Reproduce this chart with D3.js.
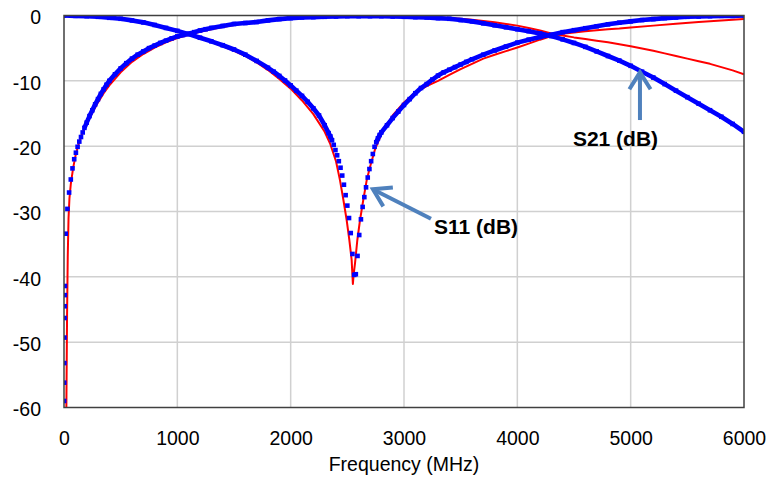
<!DOCTYPE html>
<html><head><meta charset="utf-8">
<script src="https://cdn.jsdelivr.net/npm/d3@7"></script>
<style>html,body{margin:0;padding:0;background:#fff;} svg{display:block;}</style>
</head><body>
<svg id="chart" width="768" height="480"></svg>
<script>
// ---------- data ----------
const xTicks = [0, 1000, 2000, 3000, 4000, 5000, 6000];
const yTicks = [0, -10, -20, -30, -40, -50, -60];
const xTitle = "Frequency (MHz)";

// measured (blue markers)
const measS21Freq = [1,2,3,4,5,6,7,8,15,30,45,60,75,90,105,120,135,150,165,180,200,225,250,275,300,325,350,375,400,450,500,550,600,650,700,750,800,850,900,950,1000,1050,1100,1150,1200,1250,1300,1400,1500,1600,1700,1800,1900,2000,2100,2200,2300,2400,2500,2600,2700,2800,2900,3000,3100,3200,3300,3400,3500,3600,3700,3800,3900,4000,4100,4200,4300,4400,4500,4600,4700,4800,4900,5000,5100,5200,5300,5400,5500,5600,5700,5800,5900,6000];
const measS21 = [-59.0,-56.2,-53.2,-49.3,-46.3,-44.5,-42.8,-41.4,-33.4,-29.6,-27.1,-25.1,-23.4,-22.0,-21.0,-20.1,-19.3,-18.6,-17.9,-17.2,-16.4,-15.4,-14.5,-13.6,-12.8,-12.0,-11.3,-10.6,-10.0,-9.0,-8.1,-7.3,-6.6,-6.0,-5.5,-5.0,-4.6,-4.2,-3.85,-3.5,-3.2,-3.0,-2.8,-2.55,-2.3,-2.1,-1.9,-1.6,-1.3,-1.15,-1.0,-0.75,-0.55,-0.4,-0.3,-0.25,-0.2,-0.15,-0.1,-0.1,-0.1,-0.1,-0.15,-0.2,-0.25,-0.3,-0.4,-0.5,-0.7,-0.9,-1.2,-1.5,-1.8,-2.1,-2.4,-2.75,-3.15,-3.65,-4.2,-4.8,-5.5,-6.2,-6.9,-7.7,-8.6,-9.5,-10.5,-11.5,-12.5,-13.5,-14.5,-15.5,-16.6,-17.8];

const measS11Freq = [0,100,200,300,400,500,600,700,800,900,1000,1100,1200,1300,1400,1500,1600,1700,1800,1850,1900,1950,2000,2050,2100,2150,2200,2250,2300,2335,2350,2365,2380,2395,2410,2425,2440,2455,2470,2485,2500,2515,2530,2545,2560,2575,2590,2605,2620,2635,2650,2665,2680,2695,2710,2725,2740,2755,2770,2785,2800,2850,2900,2950,3000,3050,3100,3150,3200,3250,3300,3350,3400,3450,3500,3550,3600,3700,3800,3900,4000,4100,4200,4300,4400,4500,4600,4700,4800,4900,5000,5100,5200,5300,5400,5500,5600,5700,5800,5900,6000];
const measS11 = [0,-0.05,-0.1,-0.2,-0.35,-0.5,-0.75,-1.05,-1.45,-1.9,-2.35,-2.85,-3.4,-3.95,-4.55,-5.2,-6.0,-6.95,-8.0,-8.6,-9.25,-9.95,-10.7,-11.5,-12.3,-13.2,-14.2,-15.3,-16.8,-18.0,-18.5,-19.1,-19.8,-20.6,-21.4,-22.3,-23.3,-24.5,-25.9,-27.5,-29.1,-31.0,-33.3,-36.5,-39.7,-39.6,-36.8,-33.6,-31.2,-29.3,-27.8,-26.3,-24.8,-23.5,-22.3,-21.2,-20.1,-19.4,-18.8,-18.3,-17.9,-16.8,-15.7,-14.7,-13.7,-12.8,-11.9,-11.1,-10.5,-9.8,-9.2,-8.7,-8.3,-7.9,-7.5,-7.1,-6.7,-6.0,-5.35,-4.75,-4.15,-3.7,-3.3,-2.95,-2.55,-2.25,-1.95,-1.65,-1.35,-1.1,-0.9,-0.7,-0.55,-0.4,-0.3,-0.2,-0.15,-0.1,-0.05,-0.05,0];

// simulated (red lines)
const simS21Freq = [20,27,33,40,48,60,80,100,130,160,200,250,300,350,400,500,600,700,800,900,1000,1100,1200,1300,1400,1500,1600,1700,1800,1900,2000,2200,2400,2600,2800,3000,3200,3400,3500,3600,3700,3800,3900,4000,4100,4200,4300,4400,4500,4600,4700,4800,4900,5000,5100,5200,5300,5400,5500,5600,5700,5800,5900,6000];
const simS21 = [-62,-46,-37,-31,-28,-25.8,-23.4,-21.6,-19.6,-18.1,-16.6,-14.9,-13.3,-11.9,-10.7,-8.7,-7.1,-5.9,-4.9,-4.1,-3.45,-2.95,-2.5,-2.1,-1.75,-1.45,-1.2,-1.0,-0.8,-0.62,-0.48,-0.28,-0.15,-0.1,-0.1,-0.15,-0.25,-0.4,-0.5,-0.65,-0.85,-1.05,-1.3,-1.55,-1.9,-2.3,-2.75,-3.05,-3.35,-3.6,-3.85,-4.1,-4.4,-4.7,-5.05,-5.4,-5.8,-6.2,-6.6,-7.0,-7.4,-7.9,-8.4,-9.0];

const simS11Freq = [0,200,400,600,800,1000,1100,1200,1300,1400,1500,1600,1700,1800,1900,2000,2100,2200,2300,2350,2400,2435,2465,2494,2518,2538,2549,2556,2568,2588,2612,2641,2671,2700,2744,2800,2900,3000,3100,3200,3300,3400,3500,3600,3700,3800,3900,4000,4100,4200,4300,4400,4500,4600,4700,4800,4900,5000,5200,5400,5600,5800,6000];
const simS11 = [0,-0.1,-0.35,-0.8,-1.5,-2.4,-2.9,-3.45,-4.05,-4.7,-5.4,-6.2,-7.2,-8.35,-9.7,-11.2,-13.0,-15.1,-17.8,-19.7,-22.3,-25.2,-28.2,-31.3,-34.4,-37.4,-41.1,-39.6,-37.9,-34.4,-31.3,-28.2,-25.2,-23.2,-20.5,-18.2,-15.3,-13.3,-11.8,-10.8,-10.0,-9.1,-8.2,-7.4,-6.6,-6.0,-5.45,-4.9,-4.3,-3.7,-3.15,-2.8,-2.6,-2.4,-2.25,-2.1,-2.0,-1.85,-1.55,-1.25,-1.0,-0.75,-0.55];

// annotations (data coordinates)
const annLabels = ["S11 (dB)", "S21 (dB)"];
const annTip = [[2726, -26.6], [5082, -8.7]];
const annTail = [[3238, -31.1], [5082, -16.0]];
const annText = [[3265, -33.5], [4866, -20.0]];
const annAnchor = ["start", "middle"];

// ---------- layout ----------
const L = 64, R = 744, T = 15.5, B = 407.5;
const FONT = "Arial, 'Liberation Sans', sans-serif";

const svg = d3.select("#chart");
const x = d3.scaleLinear().domain([0, 6000]).range([L, R]);
const y = d3.scaleLinear().domain([-60, 0]).range([B, T]);

// gridlines
const grid = svg.append("g");
grid.selectAll("line.h").data(yTicks.filter(v => v !== 0 && v !== -60)).join("line")
  .attr("x1", L).attr("x2", R).attr("y1", d => y(d)).attr("y2", d => y(d))
  .attr("stroke", "#d0d0d0").attr("stroke-width", 1.5);
grid.selectAll("line.v").data(xTicks.filter(v => v !== 0 && v !== 6000)).join("line")
  .attr("y1", T).attr("y2", B).attr("x1", d => x(d)).attr("x2", d => x(d))
  .attr("stroke", "#d0d0d0").attr("stroke-width", 1.5);

svg.append("clipPath").attr("id", "plotclip").append("rect")
  .attr("x", L).attr("y", T).attr("width", R - L).attr("height", B - T);

const plot = svg.append("g").attr("clip-path", "url(#plotclip)");

function pts(fr, vals) { return fr.map((f, i) => ({ f: f, v: vals[i] })); }
const line = d3.line().x(d => x(d.f)).y(d => y(d.v));

// simulated red lines
[[simS21Freq, simS21], [simS11Freq, simS11]].forEach(([fr, vals]) => {
  plot.append("path").datum(pts(fr, vals)).attr("d", line)
    .attr("fill", "none").attr("stroke", "#ff0000").attr("stroke-width", 2)
    .attr("stroke-linejoin", "round");
});

// measured blue: markers, joined into a band where the trace is not steep
const MS = 4.6;
[[measS21Freq, measS21], [measS11Freq, measS11]].forEach(([fr, vals]) => {
  const p = pts(fr, vals);
  const runs = []; let cur = [p[0]];
  for (let i = 1; i < p.length; i++) {
    const dx = x(p[i].f) - x(p[i - 1].f);
    const dy = Math.abs(y(p[i].v) - y(p[i - 1].v));
    if (dy <= 2.5 * dx) cur.push(p[i]); else { runs.push(cur); cur = [p[i]]; }
  }
  runs.push(cur);
  plot.append("g").selectAll("path").data(runs.filter(r => r.length > 1)).join("path")
    .attr("d", line).attr("fill", "none").attr("stroke", "#0000ff")
    .attr("stroke-width", MS).attr("stroke-linejoin", "round");
  plot.append("g").selectAll("rect").data(p).join("rect")
    .attr("x", d => x(d.f) - MS / 2).attr("y", d => y(d.v) - MS / 2)
    .attr("width", MS).attr("height", MS).attr("fill", "#0000ff");
});

// frame
svg.append("rect").attr("x", L).attr("y", T).attr("width", R - L).attr("height", B - T)
  .attr("fill", "none").attr("stroke", "#404040").attr("stroke-width", 1.5);

// axes (plain hyphen-minus, as in the original)
const fmt = d => String(d);
const yAxis = svg.append("g").attr("transform", `translate(${L},0)`)
  .call(d3.axisLeft(y).tickValues(yTicks).tickSize(0).tickPadding(23).tickFormat(fmt));
const xAxis = svg.append("g").attr("transform", `translate(0,${B})`)
  .call(d3.axisBottom(x).tickValues(xTicks).tickSize(0).tickPadding(24).tickFormat(fmt));
[yAxis, xAxis].forEach(a => {
  a.select(".domain").remove();
  a.selectAll("text").attr("font-family", FONT).attr("font-size", 19.5).attr("fill", "#000");
});
yAxis.selectAll("text").attr("dy", "0.42em");

svg.append("text").attr("x", (L + R) / 2).attr("y", 471).attr("text-anchor", "middle")
  .attr("font-family", FONT).attr("font-size", 19.5).attr("fill", "#000").text(xTitle);

// annotations
const ARROW = "#4f81bd";
annLabels.forEach((lab, i) => {
  const tx = x(annTip[i][0]), ty = y(annTip[i][1]);
  const sx = x(annTail[i][0]), sy = y(annTail[i][1]);
  const ang = Math.atan2(sy - ty, sx - tx);
  const hl = 20, ha = 32 * Math.PI / 180;
  const w1 = [tx + hl * Math.cos(ang + ha), ty + hl * Math.sin(ang + ha)];
  const w2 = [tx + hl * Math.cos(ang - ha), ty + hl * Math.sin(ang - ha)];
  svg.append("line").attr("x1", sx).attr("y1", sy).attr("x2", tx + 2 * Math.cos(ang)).attr("y2", ty + 2 * Math.sin(ang))
    .attr("stroke", ARROW).attr("stroke-width", 4);
  svg.append("polyline").attr("points", [w1, [tx, ty], w2].map(p => p.join(",")).join(" "))
    .attr("fill", "none").attr("stroke", ARROW).attr("stroke-width", 4).attr("stroke-linejoin", "miter");
  svg.append("text").attr("x", x(annText[i][0])).attr("y", y(annText[i][1]))
    .attr("text-anchor", annAnchor[i]).attr("font-family", FONT).attr("font-weight", "bold")
    .attr("font-size", 21).attr("fill", "#000").text(lab);
});
</script>
</body></html>
